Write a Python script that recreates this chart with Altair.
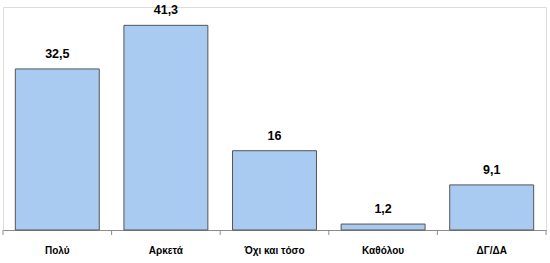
import altair as alt
import pandas as pd

categories = ["Πολύ", "Αρκετά", "Όχι και τόσο", "Καθόλου", "ΔΓ/ΔΑ"]
values = [32.5, 41.3, 16, 1.2, 9.1]
value_labels = ["32,5", "41,3", "16", "1,2", "9,1"]

df = pd.DataFrame({"cat": categories, "val": values, "lab": value_labels})

W, H = 543, 223
FONT = "Liberation Sans"

xscale = alt.Scale(domain=categories, paddingInner=0.227, paddingOuter=0.1135)
yscale = alt.Scale(domain=[0, 45])

base = alt.Chart(df)

bars = base.mark_bar(color="#A9CBF1", stroke="#555555", strokeWidth=1).encode(
    x=alt.X("cat:N", sort=categories, scale=xscale, title=None,
            axis=alt.Axis(labelAngle=0, ticks=False, domain=True, domainColor="#8C8C8C",
                          labelFont=FONT, labelFontSize=10, labelFontWeight="bold",
                          labelColor="#000000", labelPadding=15, grid=False)),
    y=alt.Y("val:Q", scale=yscale, axis=None),
)

texts = base.mark_text(font=FONT, fontSize=12.5, fontWeight="bold", baseline="bottom", dy=-8,
                       color="#000000").encode(
    x=alt.X("cat:N", sort=categories, scale=xscale),
    y=alt.Y("val:Q", scale=yscale),
    text="lab:N",
)

main = alt.layer(bars, texts)

ticks = base.mark_rule(color="#8C8C8C", strokeWidth=1).encode(
    x=alt.X("cat:N", sort=categories, bandPosition=0,
            scale=alt.Scale(domain=categories, paddingInner=0, paddingOuter=0), axis=None),
    y=alt.value(H),
    y2=alt.value(H + 5),
)
end_tick = alt.Chart(pd.DataFrame({"e": [0]})).mark_rule(color="#8C8C8C", strokeWidth=1).encode(
    x=alt.value(W), y=alt.value(H), y2=alt.value(H + 5)
)

chart = alt.layer(main, ticks, end_tick).resolve_scale(x="independent").properties(
    width=W, height=H,
    autosize=alt.AutoSizeParams(type="none"),
    padding={"left": 3, "top": 7, "right": 4, "bottom": 33},
).configure_view(stroke=None).configure(background="#FFFFFF")

chart.save("out.html", embed_options={"renderer": "svg", "actions": False})
